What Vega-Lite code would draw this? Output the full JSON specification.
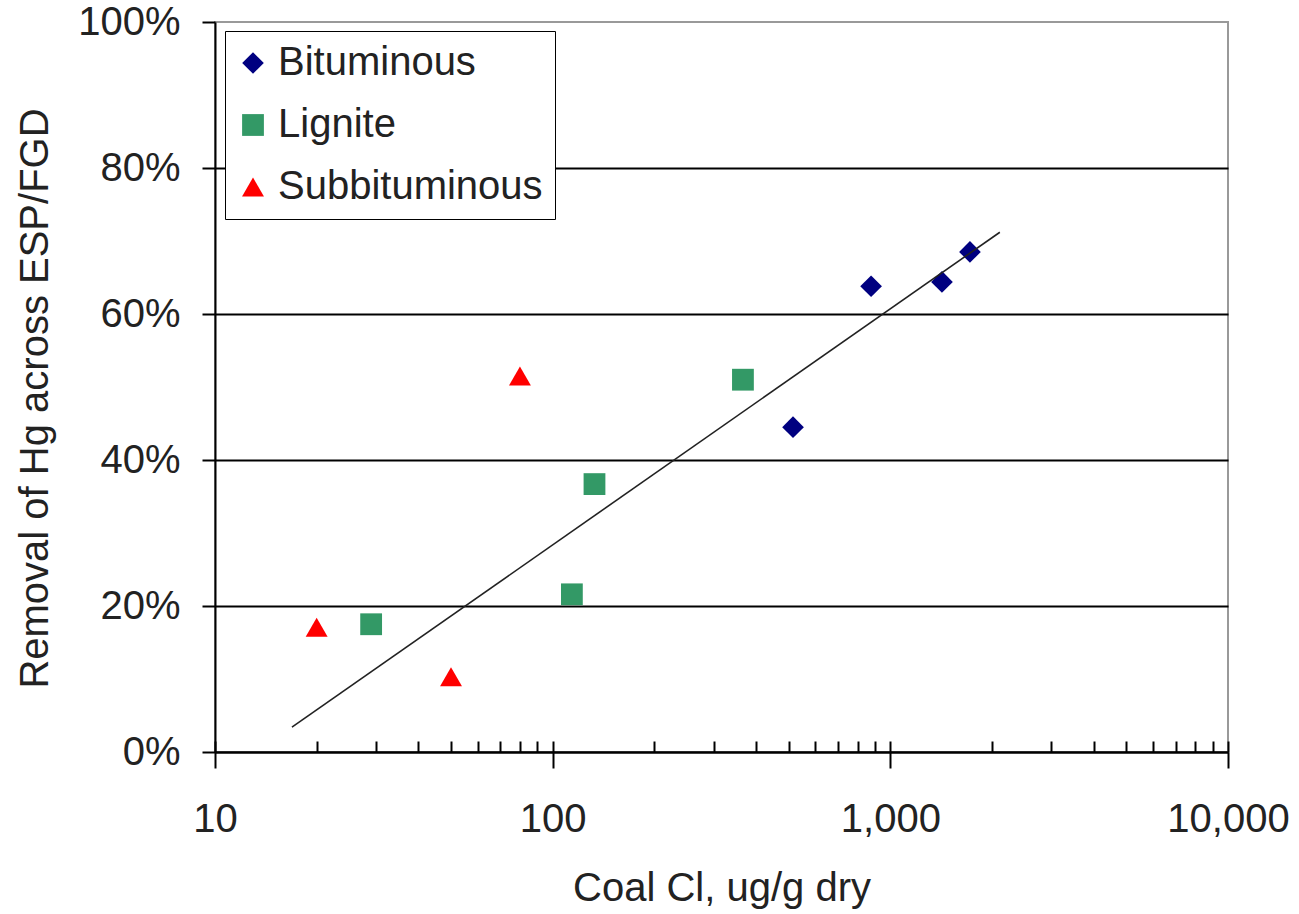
{
  "$schema": "https://vega.github.io/schema/vega-lite/v6.json",
  "autosize": "none",
  "padding": {"left": 215, "top": 22, "right": 71, "bottom": 162},
  "width": 1013,
  "height": 730,
  "background": "white",
  "config": {
    "font": "Liberation Sans",
    "view": {"stroke": "#999999", "strokeWidth": 2},
    "axis": {"labelColor": "#222222", "titleColor": "#222222", "titleFontWeight": "normal"}
  },
  "datasets": {
    "points": [
      {"type": "Bituminous", "cl": 877, "removal": 0.638},
      {"type": "Bituminous", "cl": 1422, "removal": 0.644},
      {"type": "Bituminous", "cl": 1721, "removal": 0.685},
      {"type": "Bituminous", "cl": 515, "removal": 0.445},
      {"type": "Lignite", "cl": 29, "removal": 0.175},
      {"type": "Lignite", "cl": 114, "removal": 0.216},
      {"type": "Lignite", "cl": 133, "removal": 0.367},
      {"type": "Lignite", "cl": 366, "removal": 0.51},
      {"type": "Subbituminous", "cl": 20, "removal": 0.171},
      {"type": "Subbituminous", "cl": 50, "removal": 0.103},
      {"type": "Subbituminous", "cl": 80, "removal": 0.515}
    ],
    "trend": [
      {"cl": 16.9, "removal": 0.034},
      {"cl": 2110, "removal": 0.712}
    ]
  },
  "layer": [
    {
      "data": {"name": "points"},
      "mark": {"type": "point", "filled": true, "opacity": 1},
      "encoding": {
        "x": {
          "field": "cl", "type": "quantitative",
          "scale": {"type": "log", "domain": [10, 10000], "nice": false},
          "axis": {
            "orient": "bottom",
            "values": [10, 100, 1000, 10000],
            "format": ",",
            "grid": false,
            "tickSize": 16, "tickWidth": 2, "tickColor": "black",
            "domainColor": "black", "domainWidth": 2,
            "labelFontSize": 40, "labelPadding": 63, "labelBaseline": "alphabetic", "labelFlush": false,
            "title": "Coal Cl, ug/g dry", "titleFontSize": 40,
            "titleX": 506.5, "titleY": 148, "titleBaseline": "alphabetic", "titleAlign": "center"
          }
        },
        "y": {
          "field": "removal", "type": "quantitative",
          "scale": {"domain": [0, 1], "nice": false},
          "axis": {
            "values": [0, 0.2, 0.4, 0.6, 0.8, 1],
            "format": ".0%",
            "grid": true, "gridColor": "black", "gridWidth": 2,
            "gridOpacity": {"condition": {"test": "datum.value >= 1", "value": 0}, "value": 1},
            "tickSize": 13, "tickWidth": 2, "tickColor": "black",
            "domainColor": "black", "domainWidth": 2,
            "labelFontSize": 40, "labelPadding": 22,
            "title": "Removal of Hg across ESP/FGD", "titleFontSize": 40,
            "titleAngle": 270, "titleX": -168, "titleY": 376, "titleAlign": "center", "titleBaseline": "alphabetic"
          }
        },
        "color": {
          "field": "type", "type": "nominal",
          "scale": {"domain": ["Bituminous", "Lignite", "Subbituminous"], "range": ["#000080", "#339966", "#FF0000"]},
          "legend": {
            "title": null, "orient": "none", "legendX": 10, "legendY": 9,
            "strokeColor": "black", "fillColor": "white", "padding": 12,
            "labelFontSize": 40, "labelColor": "#222222", "labelOffset": 5, "labelLimit": 500,
            "rowPadding": 22, "symbolStrokeWidth": 0, "symbolOffset": -4
          }
        },
        "shape": {
          "field": "type", "type": "nominal",
          "scale": {"domain": ["Bituminous", "Lignite", "Subbituminous"], "range": ["diamond", "square", "triangle-up"]}
        },
        "size": {
          "field": "type", "type": "nominal",
          "scale": {"domain": ["Bituminous", "Lignite", "Subbituminous"], "range": [470, 480, 620]}
        }
      }
    },
    {
      "data": {"name": "trend"},
      "mark": {"type": "line", "color": "#222222", "strokeWidth": 1.6},
      "encoding": {
        "x": {
          "field": "cl", "type": "quantitative",
          "scale": {"type": "log", "domain": [10, 10000], "nice": false},
          "axis": {
            "orient": "bottom",
            "values": [10, 20, 30, 40, 50, 60, 70, 80, 90, 100, 200, 300, 400, 500, 600, 700, 800, 900, 1000, 2000, 3000, 4000, 5000, 6000, 7000, 8000, 9000, 10000],
            "labels": false, "domain": false, "grid": false, "title": null,
            "tickSize": -11, "tickWidth": 2, "tickColor": "black"
          }
        },
        "y": {"field": "removal", "type": "quantitative"}
      }
    }
  ],
  "resolve": {"axis": {"x": "independent"}}
}
